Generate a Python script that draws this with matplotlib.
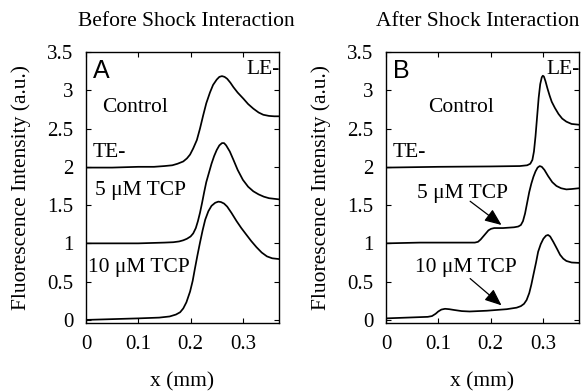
import matplotlib
matplotlib.use("Agg")
import matplotlib.pyplot as plt

plt.rcParams['font.family'] = ['Liberation Serif', 'DejaVu Serif']

# Panel A - before shock interaction
xa_ctrl = [0.0, 0.05, 0.10, 0.13, 0.15, 0.165, 0.175, 0.186, 0.193, 0.199, 0.205, 0.212,
           0.218, 0.224, 0.230, 0.237, 0.243, 0.250, 0.255, 0.260, 0.265, 0.270, 0.276,
           0.282, 0.290, 0.301, 0.310, 0.320, 0.330, 0.339, 0.350, 0.360, 0.369]
ya_ctrl = [1.99, 1.99, 2.0, 2.0, 2.01, 2.02, 2.04, 2.07, 2.11, 2.16, 2.24, 2.35,
           2.50, 2.67, 2.83, 2.97, 3.07, 3.14, 3.175, 3.185, 3.175, 3.15, 3.10,
           3.04, 2.97, 2.89, 2.82, 2.76, 2.71, 2.68, 2.665, 2.66, 2.66]

xa_5 = [0.0, 0.05, 0.10, 0.15, 0.167, 0.178, 0.186, 0.193, 0.200, 0.205, 0.210, 0.214,
        0.218, 0.222, 0.226, 0.230, 0.235, 0.240, 0.245, 0.250, 0.255, 0.260, 0.264,
        0.268, 0.275, 0.282, 0.290, 0.300, 0.310, 0.320, 0.330, 0.340, 0.350, 0.369]
ya_5 = [1.0, 1.0, 1.0, 1.01, 1.015, 1.025, 1.04, 1.06, 1.09, 1.13, 1.20, 1.29,
        1.40, 1.53, 1.67, 1.80, 1.92, 2.04, 2.14, 2.22, 2.28, 2.31, 2.31,
        2.28, 2.20, 2.09, 1.96, 1.83, 1.74, 1.68, 1.64, 1.61, 1.59, 1.575]

xa_10 = [0.0, 0.05, 0.10, 0.14, 0.16, 0.172, 0.180, 0.186, 0.192, 0.199, 0.204, 0.208,
         0.213, 0.218, 0.223, 0.228, 0.234, 0.240, 0.247, 0.253, 0.258, 0.264, 0.270,
         0.278, 0.288, 0.297, 0.307, 0.316, 0.326, 0.336, 0.346, 0.356, 0.369]
ya_10 = [0.0, 0.01, 0.02, 0.03, 0.045, 0.07, 0.10, 0.15, 0.23, 0.37, 0.51, 0.66,
         0.84, 1.01, 1.17, 1.31, 1.42, 1.49, 1.53, 1.545, 1.54, 1.52, 1.48,
         1.40, 1.29, 1.20, 1.11, 1.03, 0.95, 0.88, 0.83, 0.805, 0.795]

# Panel B - after shock interaction
xb_ctrl = [0.0, 0.10, 0.20, 0.256, 0.270, 0.276, 0.280, 0.283, 0.286, 0.289, 0.292, 0.295,
           0.298, 0.300, 0.302, 0.305, 0.309, 0.313, 0.317, 0.323, 0.330, 0.337, 0.345,
           0.355, 0.369]
yb_ctrl = [1.99, 2.0, 2.005, 2.01, 2.02, 2.04, 2.09, 2.20, 2.40, 2.65, 2.90, 3.08,
           3.17, 3.19, 3.18, 3.12, 3.02, 2.93, 2.85, 2.77, 2.69, 2.63, 2.59,
           2.56, 2.55]

xb_5 = [0.0, 0.065, 0.17, 0.176, 0.181, 0.186, 0.191, 0.196, 0.201, 0.207, 0.224, 0.245,
        0.253, 0.258, 0.262, 0.266, 0.270, 0.274, 0.278, 0.282, 0.286, 0.290, 0.294,
        0.298, 0.303, 0.310, 0.318, 0.326, 0.335, 0.345, 0.355, 0.369]
yb_5 = [1.0, 1.01, 1.01, 1.02, 1.05, 1.09, 1.13, 1.17, 1.19, 1.20, 1.20, 1.21,
        1.22, 1.24, 1.29, 1.39, 1.53, 1.67, 1.78, 1.87, 1.94, 1.99, 2.01,
        2.00, 1.96, 1.88, 1.80, 1.75, 1.72, 1.705, 1.71, 1.72]

xb_10 = [0.0, 0.04, 0.080, 0.088, 0.095, 0.100, 0.106, 0.113, 0.121, 0.130, 0.145, 0.160,
         0.193, 0.231, 0.250, 0.258, 0.264, 0.269, 0.274, 0.278, 0.282, 0.287, 0.291,
         0.296, 0.301, 0.306, 0.310, 0.314, 0.320, 0.327, 0.333, 0.339, 0.345, 0.355,
         0.369]
yb_10 = [0.02, 0.03, 0.04, 0.05, 0.08, 0.11, 0.135, 0.145, 0.14, 0.13, 0.115, 0.11,
         0.12, 0.14, 0.16, 0.18, 0.21, 0.26, 0.35, 0.46, 0.59, 0.75, 0.89,
         0.99, 1.06, 1.10, 1.11, 1.09, 1.02, 0.93, 0.85, 0.80, 0.77, 0.75,
         0.745]

xticks = [0, 0.1, 0.2, 0.3]
xtick_labels = ['0', '0.1', '0.2', '0.3']
yticks = [0, 0.5, 1, 1.5, 2, 2.5, 3, 3.5]
ytick_labels = ['0', '0.5', '1', '1.5', '2', '2.5', '3', '3.5']

fs = 15.5

fig = plt.figure(figsize=(5.83, 3.91), dpi=100)
ax_a = fig.add_axes([0.1475, 0.174, 0.331, 0.693])
ax_b = fig.add_axes([0.662, 0.174, 0.331, 0.693])

lw = 1.25
for ax, letter in ((ax_a, 'A'), (ax_b, 'B')):
    ax.set_xlim(0, 0.369)
    ax.set_ylim(-0.04, 3.49)
    ax.set_xticks(xticks)
    ax.set_xticklabels(xtick_labels)
    ax.set_yticks(yticks)
    ax.set_yticklabels(ytick_labels)
    ax.tick_params(direction='in', length=3.5, width=0.8, top=True, right=True,
                   labelsize=15)
    ax.tick_params(axis='x', pad=9)
    ax.tick_params(axis='y', pad=9)
    for s in ax.spines.values():
        s.set_linewidth(1.0)
    ax.set_xlabel('x (mm)', fontsize=fs, labelpad=13)
    ax.set_ylabel('Fluorescence Intensity (a.u.)', fontsize=fs, labelpad=12)
    ax.text(0.013, 3.25, letter, family='Liberation Sans',
            fontsize=18, ha='left', va='center')
    ax.text(0.3715, 3.27, 'LE-', fontsize=fs, ha='right', va='center')
    ax.text(0.013, 2.19, 'TE-', fontsize=fs, ha='left', va='center')

ax_a.plot(xa_ctrl, ya_ctrl, color='black', lw=lw)
ax_a.plot(xa_5, ya_5, color='black', lw=lw)
ax_a.plot(xa_10, ya_10, color='black', lw=lw)

ax_b.plot(xb_ctrl, yb_ctrl, color='black', lw=lw)
ax_b.plot(xb_5, yb_5, color='black', lw=lw)
ax_b.plot(xb_10, yb_10, color='black', lw=lw)

ax_a.text(0.094, 2.78, 'Control', fontsize=fs, ha='center', va='center')
ax_a.text(0.104, 1.69, '5 μM TCP', fontsize=fs, ha='center', va='center')
ax_a.text(0.101, 0.68, '10 μM TCP', fontsize=fs, ha='center', va='center')

ax_b.text(0.143, 2.78, 'Control', fontsize=fs, ha='center', va='center')
ax_b.text(0.146, 1.65, '5 μM TCP', fontsize=fs, ha='center', va='center')
ax_b.text(0.152, 0.68, '10 μM TCP', fontsize=fs, ha='center', va='center')

arrow = dict(arrowstyle='-|>,head_length=0.6,head_width=0.25', color='black', lw=0.9,
             mutation_scale=17, shrinkA=0, shrinkB=0)
ax_b.annotate('', xy=(0.221, 1.24), xytext=(0.161, 1.55), arrowprops=arrow)
ax_b.annotate('', xy=(0.221, 0.19), xytext=(0.161, 0.54), arrowprops=arrow)

fig.text(0.319, 0.944, 'Before Shock Interaction', fontsize=fs, ha='center', va='center')
fig.text(0.82, 0.944, 'After Shock Interaction', fontsize=fs, ha='center', va='center')

fig.savefig('out.png', dpi=100)
